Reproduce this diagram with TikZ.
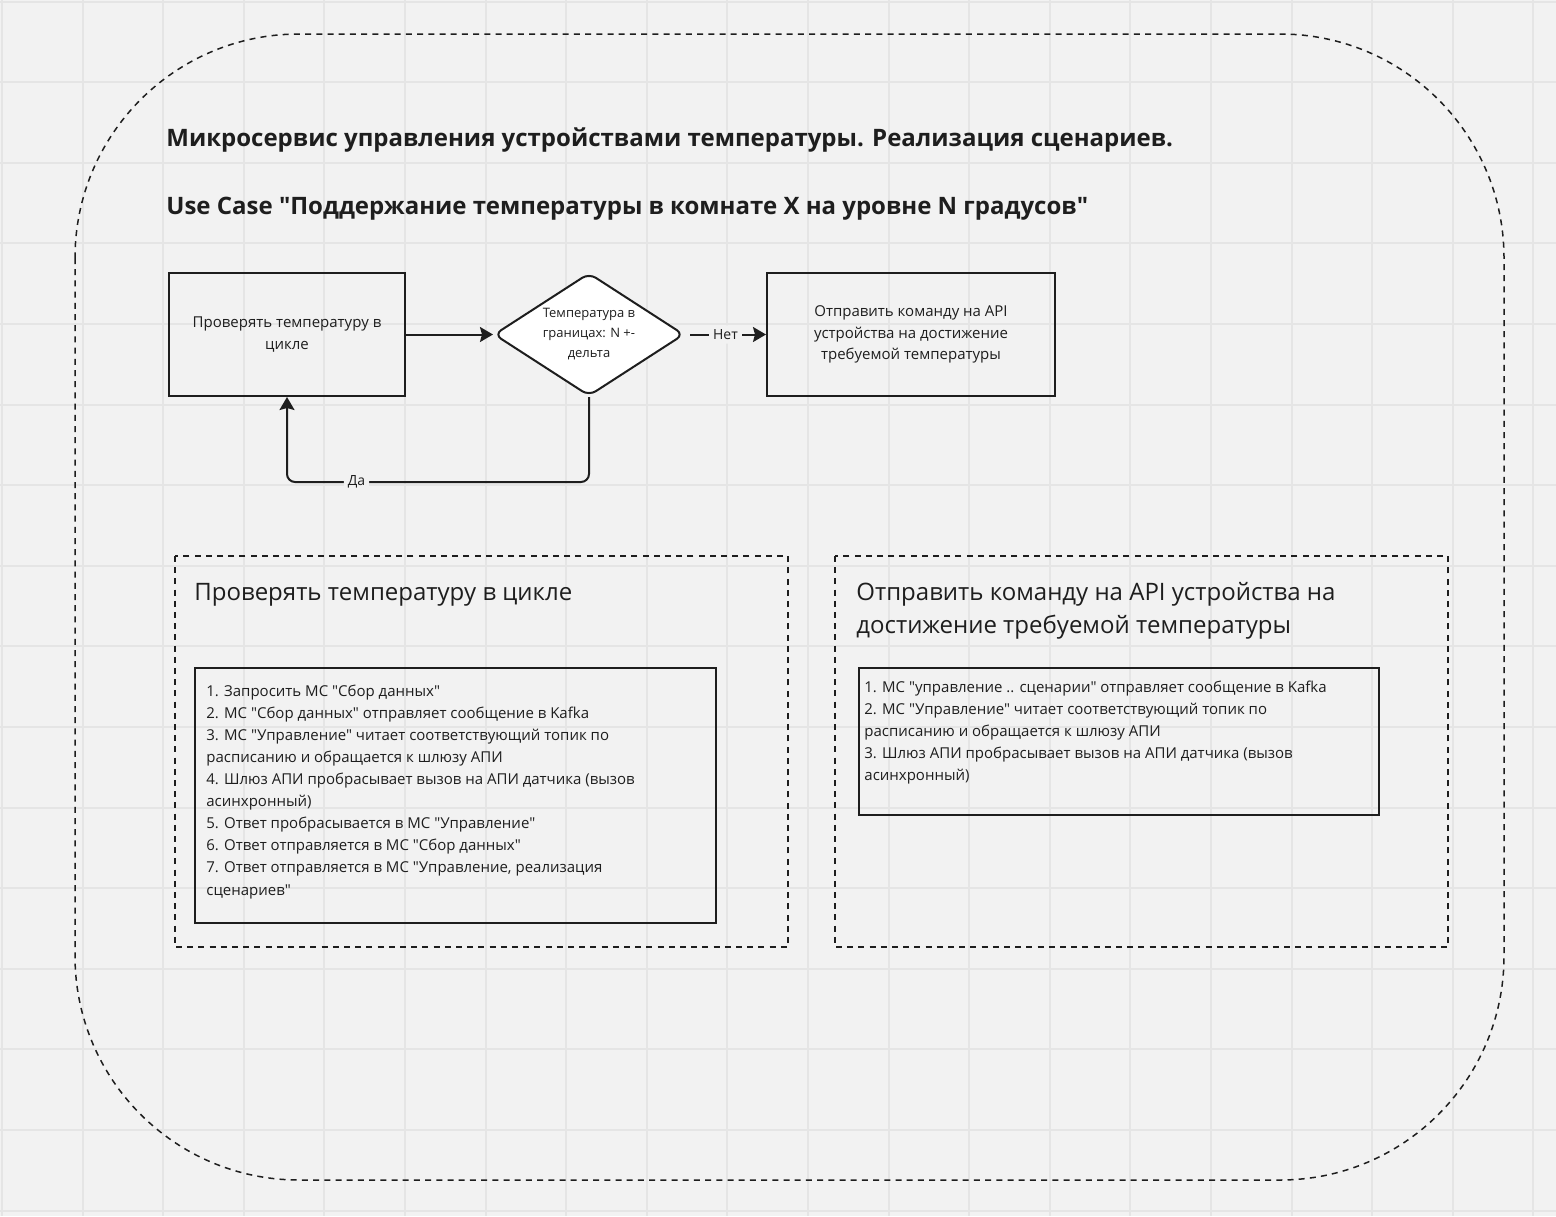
\documentclass[tikz,border=0pt]{standalone}
\usepackage{fontspec}
\setmainfont{Open Sans}[Ligatures=TeXOff]
\usetikzlibrary{shapes.geometric,arrows.meta,positioning}

\definecolor{boardbg}{HTML}{F2F2F2}
\definecolor{boardgrid}{HTML}{E5E5E5}
\definecolor{ink}{HTML}{1E1E1E}

\tikzstyle{gridline}=[draw=boardgrid, line width=1pt]
\tikzstyle{frame}=[draw=ink, line width=0.75pt, dash pattern=on 3pt off 2.6pt]
\tikzstyle{block}=[draw=ink, line width=1pt, align=center, inner sep=0pt, font=\fontsize{7.5}{10.9}\selectfont, text=ink]
\tikzstyle{decision}=[diamond, draw=ink, fill=white, line width=1pt, rounded corners=4pt, inner sep=0pt, minimum width=95pt, minimum height=61.5pt]
\tikzstyle{decisiontext}=[align=center, inner sep=0pt, font=\fontsize{6.5}{10}\selectfont, text=ink]
\tikzstyle{link}=[draw=ink, line width=1pt, -{Stealth[length=6.5pt,width=7.5pt,inset=1pt]}, rounded corners=4pt]
\tikzstyle{answer}=[fill=boardbg, inner sep=2pt, font=\fontsize{7}{8}\selectfont, text=ink]
\tikzstyle{heading}=[anchor=base west, inner sep=0pt, font=\bfseries\fontsize{12}{14}\selectfont, text=ink]
\tikzstyle{caption}=[anchor=base west, inner sep=0pt, align=left, font=\fontsize{12}{16.7}\selectfont, text=ink]
\tikzstyle{steps}=[anchor=base west, inner sep=0pt, align=left, font=\fontsize{7.5}{11.05}\selectfont, text=ink]
\newcommand{\boardunit}{0.5pt}

\begin{document}
\begin{tikzpicture}[x=\boardunit, y=-\boardunit]
    % Board with its grid
    \fill[boardbg] (0,0) rectangle (1556,1216);
    \useasboundingbox (0,0) rectangle (1556,1216);
    \foreach \gx in {0,...,19}
        \draw[gridline] ({2+80.6*\gx},0) -- ++(0,1216);
    \foreach \gy in {0,...,15}
        \draw[gridline] (0,{1.5+80.6*\gy}) -- ++(1556,0);
    \draw[frame, rounded corners=112pt] (75,34) rectangle (1504,1180);

    % Headings
    \node[heading] (title) at (166,146) {Микросервис управления устройствами температуры. Реализация сценариев.};
    \node[heading] (usecase) at (166,214) {Use Case "Поддержание температуры в комнате X на уровне N градусов"};

    % Flow: check, decide, send
    \node[block, minimum width=118pt, minimum height=61.5pt] (measure) at (287,334.5) {Проверять температуру в\\цикле};
    \node[decision] (check) at (589,334.5) {};
    \node[decisiontext] (checktext) at (check.center) {Температура в\\границах: N +-\\дельта};
    \node[block, minimum width=144pt, minimum height=61.5pt] (send) at (911,334.5) {Отправить команду на API\\устройства на достижение\\требуемой температуры};
    \draw[link] (measure.east) -- (check.west);
    \draw[link, shorten <=2.5pt] (check.east) -- node[answer] {Нет} (send.west);
    \draw[link] (check.south) -- ++(0,85) -| node[answer, pos=0.385] {Да} (measure.south);

    % Details of each step (base of a text block is its last line)
    \draw[frame] (175,556) rectangle (788,947);
    \node[caption] (polltitle) at (194,600) {Проверять температуру в цикле};
    \node[block, anchor=north west, minimum width=260.5pt, minimum height=127.5pt] (pollbox) at (194,667) {};
    \node[steps] (polltext) at (206,895) {1. Запросить МС "Сбор данных"\\
        2. МС "Сбор данных" отправляет сообщение в Kafka\\
        3. МС "Управление" читает соответствующий топик по\\
        расписанию и обращается к шлюзу АПИ\\
        4. Шлюз АПИ пробрасывает вызов на АПИ датчика (вызов\\
        асинхронный)\\
        5. Ответ пробрасывается в МС "Управление"\\
        6. Ответ отправляется в МС "Сбор данных"\\
        7. Ответ отправляется в МС "Управление, реализация\\
        сценариев"};

    \draw[frame] (835,556) rectangle (1448,947);
    \node[caption] (sendtitle) at (856,633.4) {Отправить команду на API устройства на\\достижение требуемой температуры};
    \node[block, anchor=north west, minimum width=260pt, minimum height=73.5pt] (sendbox) at (858,667) {};
    \node[steps] (sendtext) at (864,780.5) {1. МС "управление .. сценарии" отправляет сообщение в Kafka\\
        2. МС "Управление" читает соответствующий топик по\\
        расписанию и обращается к шлюзу АПИ\\
        3. Шлюз АПИ пробрасывает вызов на АПИ датчика (вызов\\
        асинхронный)};
\end{tikzpicture}
\end{document}
